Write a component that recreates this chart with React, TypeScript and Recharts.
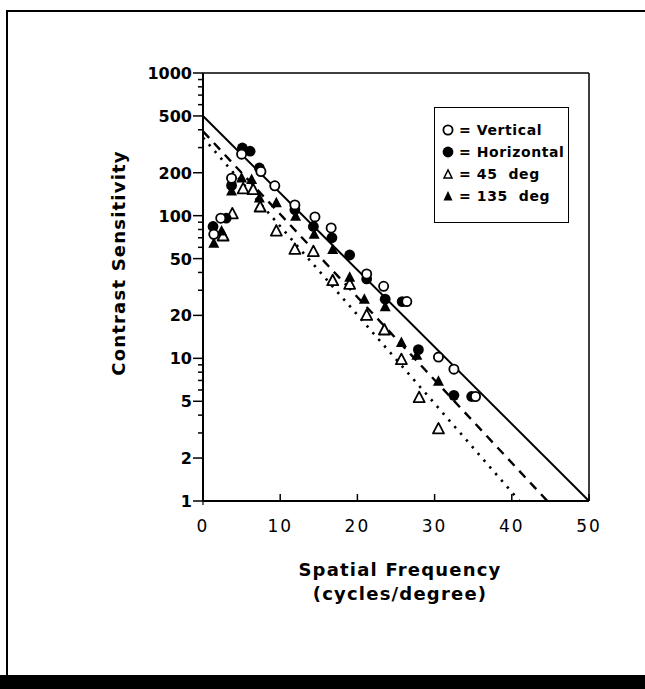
import React from 'react'
import {
  ComposedChart,
  Scatter,
  XAxis,
  YAxis,
  ReferenceLine,
} from 'recharts'

// [spatial frequency (c/deg), contrast sensitivity]
const vertical: [number, number][] = [
  [1.4, 74], [2.3, 96], [3.7, 183], [5.0, 270], [7.5, 204], [9.3, 162],
  [11.9, 119], [14.5, 98], [16.6, 82], [21.2, 39], [23.4, 32], [26.4, 25],
  [30.5, 10.2], [32.5, 8.4], [35.3, 5.4],
]

const horizontal: [number, number][] = [
  [1.3, 84], [3.0, 96], [3.7, 163], [5.1, 298], [6.1, 283], [7.3, 216],
  [11.9, 110], [14.3, 84], [16.7, 70], [19.0, 53], [21.2, 36], [23.6, 26],
  [25.8, 25], [27.9, 11.5], [32.5, 5.5], [34.8, 5.4],
]

const deg45: [number, number][] = [
  [2.6, 72], [3.8, 103], [5.2, 154], [6.5, 152], [7.4, 115], [9.5, 78],
  [11.9, 58], [14.3, 56], [16.8, 35], [19.0, 33], [21.2, 20], [23.5, 15.8],
  [25.7, 9.8], [28.0, 5.3], [30.5, 3.2],
]

const deg135: [number, number][] = [
  [1.4, 64], [2.4, 78], [3.7, 149], [5.0, 184], [6.3, 179], [7.3, 133],
  [9.5, 123], [12.0, 99], [14.4, 74], [16.8, 58], [19.0, 37], [20.9, 26],
  [23.6, 23], [25.7, 12.9], [27.7, 10.5], [30.5, 6.9],
]

// fitted lines, end points only
const solidFit: [number, number][] = [[0, 500], [50, 1]]
const dashedFit: [number, number][] = [[0, 390], [44.6, 1]]
const dottedFit: [number, number][] = [[0, 352], [41, 1]]

const xTicks = [0, 10, 20, 30, 40, 50]
const yMajorTicks = [1, 2, 5, 10, 20, 50, 100, 200, 500, 1000]
const yMinorTicks = [3, 4, 6, 7, 8, 9, 30, 40, 60, 70, 80, 90, 300, 400, 600, 700, 800, 900]

const toPoints = (arr: [number, number][]) => arr.map(([f, cs]) => ({ f, cs }))

const FONT = '"DejaVu Sans", sans-serif'

const OpenCircle = (p: any) => (
  <circle cx={p.cx} cy={p.cy} r={4.6} fill="#fff" stroke="#000" strokeWidth={1.8} />
)
const FilledCircle = (p: any) => <circle cx={p.cx} cy={p.cy} r={5.4} fill="#000" />
const tri = (cx: number, cy: number) =>
  `${cx},${cy - 6} ${cx - 5.5},${cy + 4.5} ${cx + 5.5},${cy + 4.5}`
const OpenTriangle = (p: any) => (
  <polygon points={tri(p.cx, p.cy)} fill="#fff" stroke="#000" strokeWidth={1.8} strokeLinejoin="round" />
)
const FilledTriangle = (p: any) => <polygon points={tri(p.cx, p.cy)} fill="#000" />
const NoDot = () => <g />

const YTick = (p: any) => {
  const v = p.payload.value
  const major = yMajorTicks.includes(v)
  const x0 = p.x + 2
  return (
    <g>
      <line x1={x0} x2={x0 - (major ? 10 : 5)} y1={p.y} y2={p.y} stroke="#000" strokeWidth={1.5} />
      {major && (
        <text
          x={x0 - 11}
          y={p.y + 6}
          textAnchor="end"
          fontFamily={FONT}
          fontWeight="bold"
          fontSize={16}
          fill="#000"
        >
          {v}
        </text>
      )}
    </g>
  )
}

const XTick = (p: any) => {
  const v = p.payload.value
  const y0 = p.y - 2
  return (
    <g>
      {v === 0 ? (
        <line x1={p.x} x2={p.x} y1={y0} y2={y0 + 4} stroke="#000" strokeWidth={1.2} />
      ) : (
        <line x1={p.x} x2={p.x} y1={y0} y2={y0 - 7} stroke="#000" strokeWidth={1.5} />
      )}
      <text
        x={p.x}
        y={y0 + 31}
        textAnchor="middle"
        fontFamily={FONT}
        fontSize={17}
        letterSpacing={2}
        fill="#000"
      >
        {v}
      </text>
    </g>
  )
}

const legendItems = [
  { label: '= Vertical', shape: 'oc' },
  { label: '= Horizontal', shape: 'fc' },
  { label: '= 45  deg', shape: 'ot' },
  { label: '= 135  deg', shape: 'ft' },
]

const LegendSymbol = ({ shape }: { shape: string }) => (
  <svg width={12} height={12} style={{ marginRight: 5 }}>
    {shape === 'oc' && <OpenCircle cx={6} cy={6} />}
    {shape === 'fc' && <FilledCircle cx={6} cy={6} />}
    {shape === 'ot' && (
      <polygon points="6,2 2,10 10,10" fill="#fff" stroke="#000" strokeWidth={1.5} />
    )}
    {shape === 'ft' && <polygon points="6,1 1.5,10.5 10.5,10.5" fill="#000" />}
  </svg>
)

export default function App() {
  return (
    <div
      style={{
        position: 'absolute',
        left: 0,
        top: 0,
        width: 645,
        height: 689,
        background: '#fff',
        overflow: 'hidden',
      }}
    >
      {/* page frame */}
      <div style={{ position: 'absolute', left: 6, top: 10, width: 639, height: 2, background: '#000' }} />
      <div style={{ position: 'absolute', left: 6, top: 10, width: 2, height: 665, background: '#000' }} />
      <div style={{ position: 'absolute', left: 0, top: 675, width: 645, height: 14, background: '#000' }} />

      <div style={{ position: 'absolute', left: 0, top: 0 }}>
        <ComposedChart
          width={645}
          height={689}
          margin={{ top: 73, right: 56, left: 143, bottom: 158 }}
        >
          <XAxis
            dataKey="f"
            type="number"
            domain={[0, 50]}
            ticks={xTicks}
            interval={0}
            height={30}
            tickSize={0}
            tickLine={false}
            tick={<XTick />}
            axisLine={{ stroke: '#000', strokeWidth: 2 }}
          />
          <YAxis
            dataKey="cs"
            type="number"
            scale="log"
            domain={[1, 1000]}
            allowDataOverflow
            ticks={[...yMajorTicks, ...yMinorTicks].sort((a, b) => a - b)}
            interval={0}
            width={60}
            tickSize={0}
            tickLine={false}
            tick={<YTick />}
            axisLine={{ stroke: '#000', strokeWidth: 2 }}
          />
          <ReferenceLine y={1000} stroke="#000" strokeWidth={1.5} />
          <ReferenceLine x={50} stroke="#000" strokeWidth={1.5} />

          <Scatter
            data={toPoints(solidFit)}
            line={{ stroke: '#000', strokeWidth: 2 }}
            shape={NoDot}
            isAnimationActive={false}
          />
          <Scatter
            data={toPoints(dashedFit)}
            line={{ stroke: '#000', strokeWidth: 2.4, strokeDasharray: '9 7' }}
            shape={NoDot}
            isAnimationActive={false}
          />
          <Scatter
            data={toPoints(dottedFit)}
            line={{ stroke: '#000', strokeWidth: 2.6, strokeDasharray: '2.4 6.5' }}
            shape={NoDot}
            isAnimationActive={false}
          />

          <Scatter data={toPoints(deg45)} shape={OpenTriangle} isAnimationActive={false} />
          <Scatter data={toPoints(deg135)} shape={FilledTriangle} isAnimationActive={false} />
          <Scatter data={toPoints(horizontal)} shape={FilledCircle} isAnimationActive={false} />
          <Scatter data={toPoints(vertical)} shape={OpenCircle} isAnimationActive={false} />
        </ComposedChart>
      </div>

      {/* axis titles */}
      <div
        style={{
          position: 'absolute',
          left: 118,
          top: 263,
          transform: 'translate(-50%, -50%) rotate(-90deg)',
          whiteSpace: 'nowrap',
          fontFamily: FONT,
          fontWeight: 'bold',
          fontSize: 18,
          letterSpacing: 1.2,
        }}
      >
        Contrast Sensitivity
      </div>
      <div
        style={{
          position: 'absolute',
          left: 400,
          top: 558,
          transform: 'translateX(-50%)',
          whiteSpace: 'nowrap',
          textAlign: 'center',
          fontFamily: FONT,
          fontWeight: 'bold',
          fontSize: 18,
          letterSpacing: 1.2,
          lineHeight: '24px',
        }}
      >
        Spatial Frequency
        <br />
        (cycles/degree)
      </div>

      {/* legend */}
      <div
        style={{
          position: 'absolute',
          left: 434,
          top: 107,
          width: 133,
          height: 103,
          border: '1.5px solid #000',
          paddingTop: 11,
          boxSizing: 'content-box',
          fontFamily: FONT,
          fontWeight: 'bold',
          fontSize: 14,
          letterSpacing: 0.6,
        }}
      >
        {legendItems.map((it) => (
          <div
            key={it.label}
            style={{ display: 'flex', alignItems: 'center', height: 22, paddingLeft: 7, whiteSpace: 'pre' }}
          >
            <LegendSymbol shape={it.shape} />
            {it.label}
          </div>
        ))}
      </div>
    </div>
  )
}
